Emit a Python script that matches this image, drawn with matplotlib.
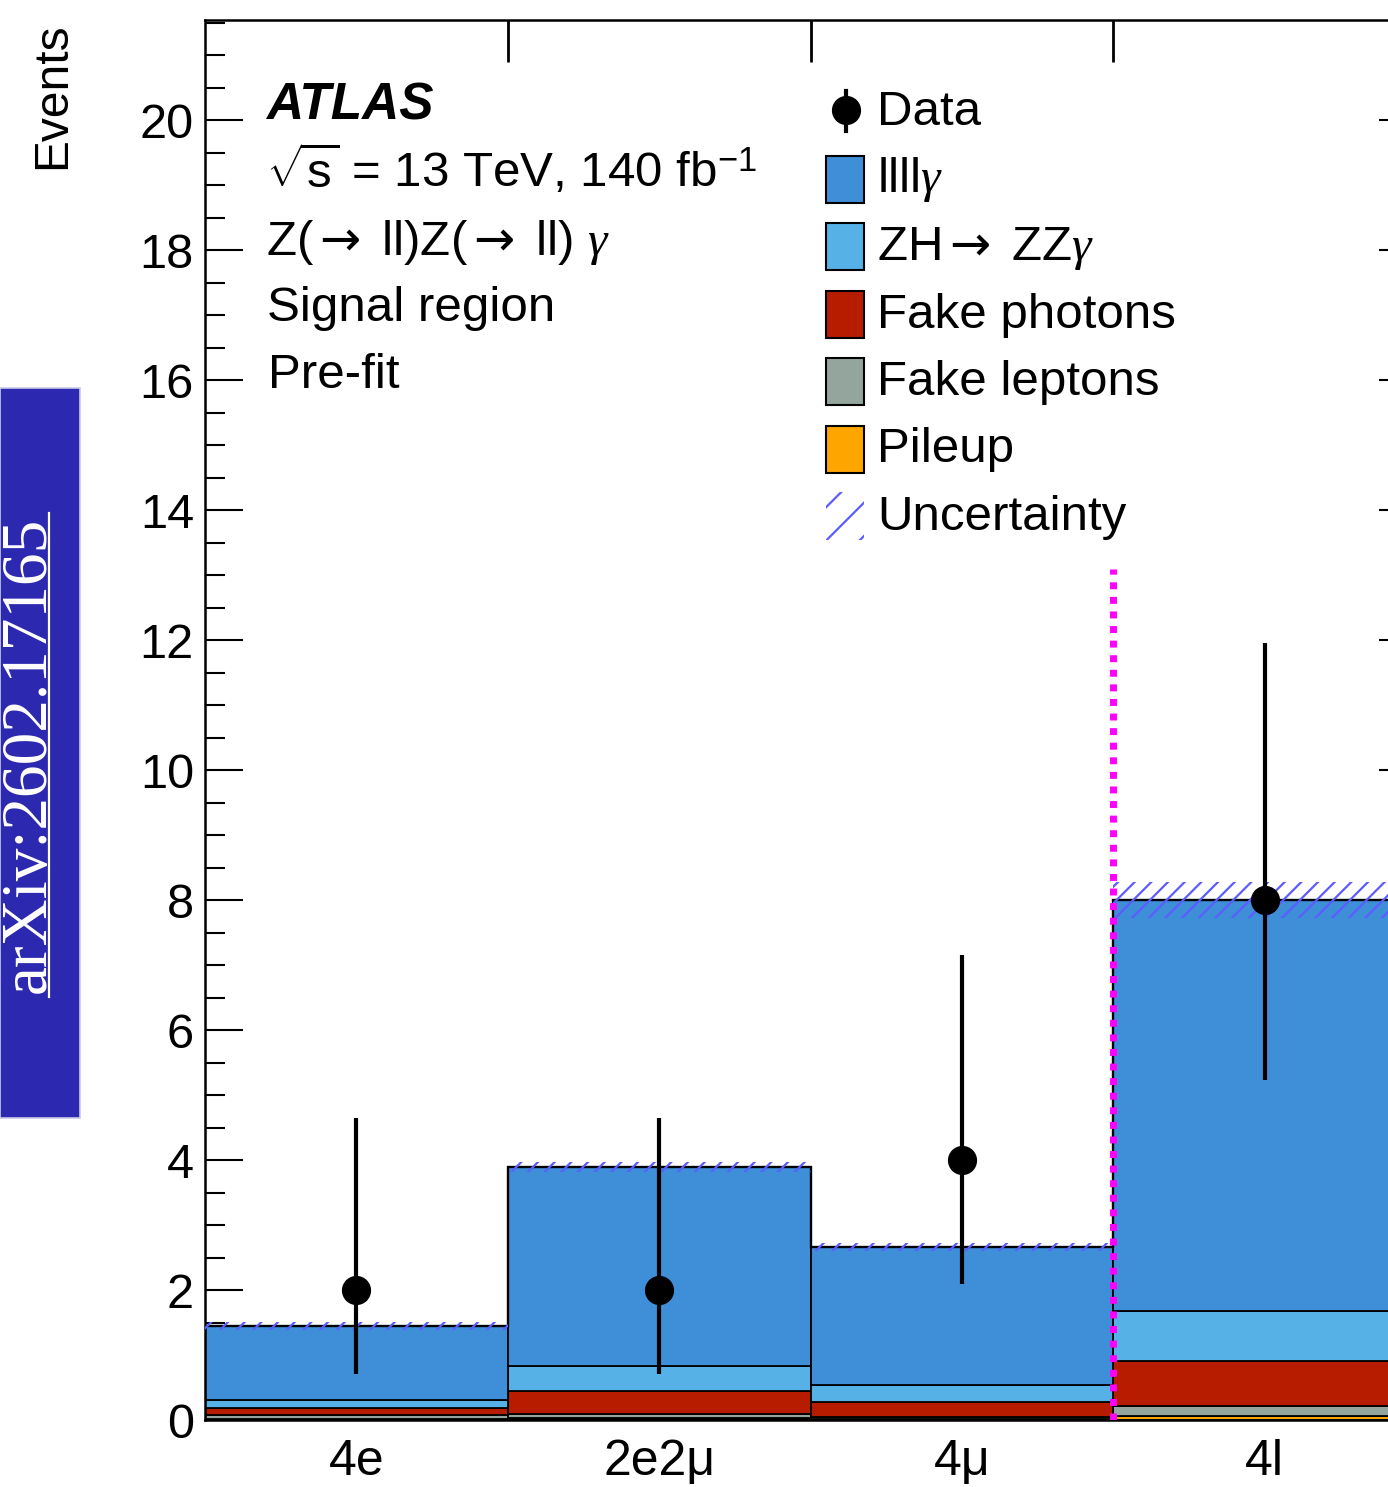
import matplotlib
matplotlib.use("Agg")
import matplotlib.pyplot as plt
from matplotlib.patches import Rectangle
from matplotlib.lines import Line2D
from matplotlib.ticker import MultipleLocator, FixedLocator

plt.rcParams["font.family"] = ["Liberation Sans", "DejaVu Sans"]
plt.rcParams["mathtext.fontset"] = "custom"
plt.rcParams["mathtext.rm"] = "Liberation Sans"
plt.rcParams["mathtext.it"] = "Liberation Serif:italic"
plt.rcParams["mathtext.sf"] = "DejaVu Sans"
plt.rcParams["hatch.linewidth"] = 1.6

# ---- yields per channel ------------------------------------------------
channels = ["4e", "2e2μ", "4μ", "4l"]
pileup = [0.01, 0.03, 0.01, 0.06]
fake_leptons = [0.06, 0.07, 0.03, 0.16]
fake_photons = [0.11, 0.35, 0.24, 0.69]
zh_zzg = [0.13, 0.38, 0.26, 0.77]
llllg = [1.14, 3.06, 2.12, 6.32]
uncertainty = [0.06, 0.08, 0.065, 0.27]

data = [2, 2, 4, 8]
data_lo = [1.29, 1.29, 1.91, 2.77]
data_hi = [2.64, 2.64, 3.16, 3.96]

ARROW = r"$\mathsf{\rightarrow}$"
stack = [
    ("Pileup", pileup, "#ffa500"),
    ("Fake leptons", fake_leptons, "#93a59c"),
    ("Fake photons", fake_photons, "#b71c00"),
    ("ZH" + ARROW + r" ZZ$\gamma$", zh_zzg, "#56b1e6"),
    (r"llll$\gamma$", llllg, "#3f8ed8"),
]
HATCH_C = "#5c5cff"
FS = 35.5

W, H = 1388, 1487
fig = plt.figure(figsize=(W / 100, H / 100), dpi=100)
ax = fig.add_axes([205 / W, 67 / H, 1211 / W, 1400 / H])

x = [i + 0.5 for i in range(len(channels))]
bottom = [0.0] * len(channels)
for name, vals, col in stack:
    ax.bar(x, vals, width=1.0, bottom=bottom, color=col, edgecolor="black",
           linewidth=1.3, zorder=2)
    bottom = [b + v for b, v in zip(bottom, vals)]
total = bottom

# total outline
ax.stairs(total, range(len(channels) + 1), color="black", lw=1.7, zorder=3)

# systematic band
ax.bar(x, [2 * u for u in uncertainty], width=1.0,
       bottom=[t - u for t, u in zip(total, uncertainty)],
       fill=False, hatch="//", edgecolor=HATCH_C, linewidth=0, zorder=4)

# combined-channel separator
ax.plot([3, 3], [0, 13.1], color="#ff00ff", lw=5, ls=(0, (1.0, 1.1)),
        solid_capstyle="butt", zorder=5)

ax.errorbar(x, data, yerr=[data_lo, data_hi], fmt="o", color="black",
            ms=20, elinewidth=3, capsize=0, zorder=6)

ax.set_xlim(0, 4)
ax.set_ylim(0, 1400 / 65)

ax.xaxis.set_major_locator(FixedLocator(x))
ax.set_xticklabels(channels)
ax.xaxis.set_minor_locator(FixedLocator([1, 2, 3]))
ax.yaxis.set_major_locator(MultipleLocator(2))
ax.yaxis.set_minor_locator(MultipleLocator(0.5))

ax.tick_params(axis="x", which="major", length=0, labelsize=36, pad=14)
ax.tick_params(axis="x", which="minor", direction="in", top=True, bottom=True,
               length=30, width=2)
ax.tick_params(axis="y", which="major", direction="in", right=True,
               length=27, width=1.5, labelsize=35, pad=8)
ax.tick_params(axis="y", which="minor", direction="in", right=True,
               length=14.5, width=1.5)
for s in ax.spines.values():
    s.set_linewidth(1.8)

fig.text(53 / W, 1 - 22 / H, "Events", rotation=90, ha="center", va="top",
         fontsize=34.5)

# ---- overlay in pixel coordinates for labels and legend ---------------
ov = fig.add_axes([0, 0, 1, 1], zorder=10)
ov.set_xlim(0, W)
ov.set_ylim(H, 0)
ov.axis("off")
ov.patch.set_alpha(0)

ov.text(266, 119, "ATLAS", fontsize=37, fontweight="bold", fontstyle="italic",
        va="baseline")
ov.text(266, 187, r"$\sqrt{\mathrm{s}}$ = 13 TeV, 140 fb$^{\mathregular{-1}}$",
        fontsize=FS, va="baseline")
ov.text(266, 255, "Z(" + ARROW + " ll)Z(" + ARROW + r" ll) $\gamma$",
        fontsize=FS, va="baseline")
ov.text(267, 321, "Signal region", fontsize=FS, va="baseline")
ov.text(268, 388, "Pre-fit", fontsize=FS, va="baseline")

# legend
row0 = 125
step = 67.5
ov.add_line(Line2D([846, 846], [91, 131], color="black", lw=3))
ov.plot([846], [110], "o", color="black", ms=20)
ov.text(877, row0, "Data", fontsize=FS, va="baseline")
for i, (name, vals, col) in enumerate(reversed(stack)):
    yc = row0 + step * (i + 1)
    ov.add_patch(Rectangle((826, yc - 37), 38, 47, fc=col, ec="black", lw=1.5))
    ov.text(877, yc, name, fontsize=FS, va="baseline")
yu = row0 + step * 6
ov.add_patch(Rectangle((826, yu - 38), 38, 48, fill=False, hatch="/",
                       edgecolor=HATCH_C, linewidth=0))
ov.text(877, yu, "Uncertainty", fontsize=FS, va="baseline")

# arXiv stamp
ov.add_patch(Rectangle((0, 388), 80, 730, fc="#2c29b0", ec="#c9c9e8", lw=1.2))
ov.text(29, 755, "arXiv:2602.17165", rotation=90, ha="center", va="center",
        color="white", fontsize=47, family=["Liberation Serif", "DejaVu Serif"])
ov.add_line(Line2D([49, 49], [513, 997], color="white", lw=1.6))

fig.savefig("out.png", dpi=100)
